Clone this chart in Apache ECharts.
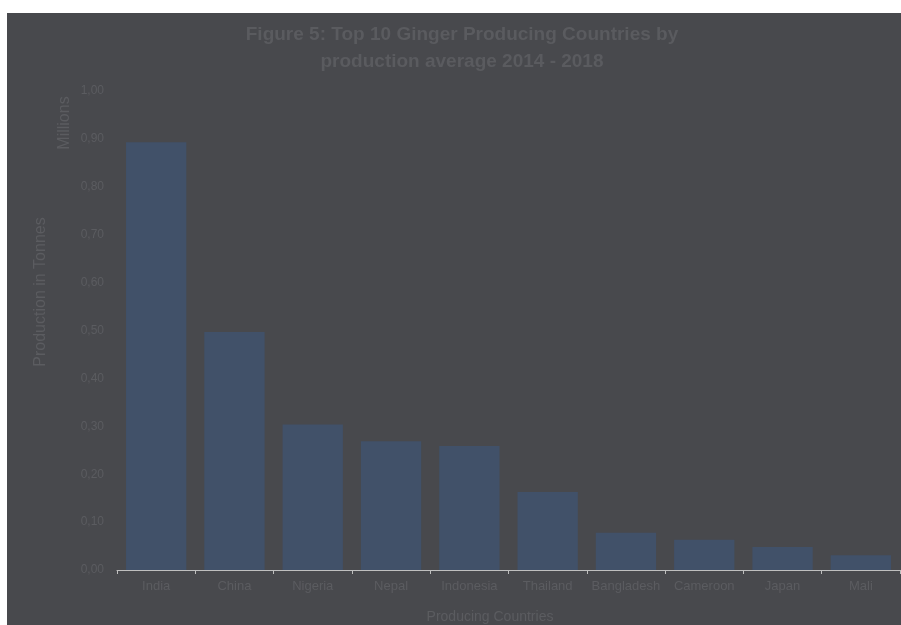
<!DOCTYPE html>
<html>
<head>
<meta charset="utf-8">
<script src="https://cdn.jsdelivr.net/npm/echarts@6/dist/echarts.min.js"></script>
<style>
html,body{margin:0;padding:0;background:#ffffff;width:901px;height:625px;overflow:hidden;}
#chart{position:absolute;left:7px;top:13px;width:894px;height:612px;}
</style>
</head>
<body>
<div id="chart"></div>
<script>
var countries = ['India','China','Nigeria','Nepal','Indonesia','Thailand','Bangladesh','Cameroon','Japan','Mali'];
var production = [0.893, 0.497, 0.304, 0.269, 0.259, 0.163, 0.078, 0.063, 0.048, 0.031];
var titleLines = ['Figure 5: Top 10 Ginger Producing Countries by', 'production average 2014 - 2018'];
var yTitle = 'Production in Tonnes';
var unitLabel = 'Millions';
var xTitle = 'Producing Countries';

var txt = '#5b5c60';
var ff = '"Liberation Sans", Arial, sans-serif';
var chart = echarts.init(document.getElementById('chart'), null, {renderer:'canvas'});
chart.setOption({
  backgroundColor: '#48494d',
  animation: false,
  textStyle: {fontFamily: ff},
  grid: {left: 110, top: 78, right: 1, bottom: 55, containLabel: false},
  xAxis: {
    type: 'category',
    data: countries,
    axisLine: {show: true, lineStyle: {color: '#bfbfbf', width: 1}},
    axisTick: {show: true, length: 4, lineStyle: {color: '#bfbfbf'}},
    axisLabel: {color: txt, fontSize: 13, margin: 10, interval: 0}
  },
  yAxis: {
    type: 'value',
    min: 0, max: 1, interval: 0.1,
    axisLine: {show: false},
    axisTick: {show: false},
    splitLine: {show: false},
    axisLabel: {color: txt, fontSize: 12, margin: 13, formatter: function(v){return v.toFixed(2).replace('.', ',');}}
  },
  graphic: [
    {type: 'text', x: 455, y: 22, style: {text: titleLines[0], fill: '#5a5b5f', font: 'bold 19px ' + ff, textAlign: 'center', textVerticalAlign: 'middle'}},
    {type: 'text', x: 455, y: 49, style: {text: titleLines[1], fill: '#5a5b5f', font: 'bold 19px ' + ff, textAlign: 'center', textVerticalAlign: 'middle'}},
    {type: 'text', rotation: Math.PI/2, x: 34, y: 279, style: {text: yTitle, fill: txt, font: '16px ' + ff, textAlign: 'center', textVerticalAlign: 'middle'}},
    {type: 'text', rotation: Math.PI/2, x: 58, y: 110, style: {text: unitLabel, fill: txt, font: '16px ' + ff, textAlign: 'center', textVerticalAlign: 'middle'}},
    {type: 'text', x: 483, y: 604, style: {text: xTitle, fill: txt, font: '14px ' + ff, textAlign: 'center', textVerticalAlign: 'middle'}}
  ],
  series: [{
    type: 'bar',
    data: production,
    barCategoryGap: '23%',
    itemStyle: {color: '#415169'},
    silent: true
  }]
});
</script>
</body>
</html>
